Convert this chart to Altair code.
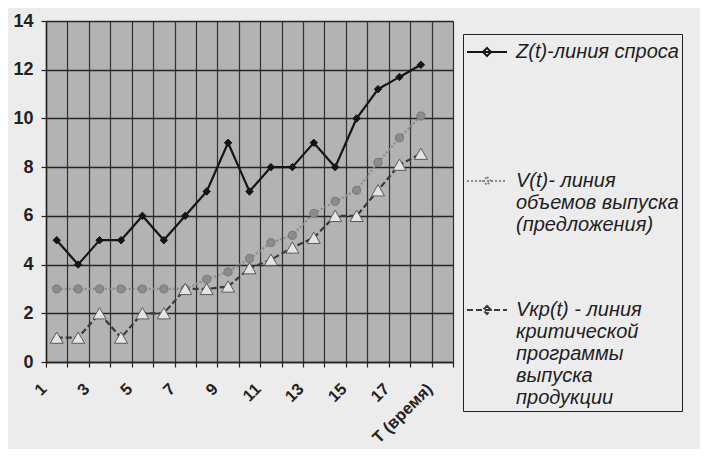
import json
import altair as alt
import pandas as pd

# ---- data ----
t_domain = [str(i) for i in range(1, 19)] + ["Т (время)"]
t_values = [str(i) for i in range(1, 19)]
shown_labels = ["1", "3", "5", "7", "9", "11", "13", "15", "17", "Т (время)"]
series_keys = ["Z", "V", "Vkr"]
z_vals = [5, 4, 5, 5, 6, 5, 6, 7, 9, 7, 8, 8, 9, 8, 10, 11.2, 11.7, 12.2]
v_vals = [3, 3, 3, 3, 3, 3, 3, 3.4, 3.7, 4.25, 4.9, 5.2, 6.1, 6.6, 7.05, 8.2, 9.2, 10.1]
vkr_vals = [1, 1, 2, 1, 2, 2, 3, 3, 3.1, 3.85, 4.2, 4.7, 5.1, 6, 6, 7.05, 8.1, 8.55]
legend_z = ["Z(t)-линия спроса", "", ""]
legend_v = ["V(t)- линия", "объемов выпуска", "(предложения)"]
legend_vkr = ["Vкр(t) - линия", "критической", "программы", "выпуска", "продукции"]
y_ticks = [0, 2, 4, 6, 8, 10, 12, 14]

df = pd.DataFrame({
    "t": t_values * 3,
    "s": [k for k in series_keys for _ in t_values],
    "v": z_vals + v_vals + vkr_vals,
})

FONT = "Liberation Sans"
BG = "#ececec"

label_expr = (
    "datum.value == 'Z' ? " + json.dumps(legend_z, ensure_ascii=False)
    + " : datum.value == 'V' ? " + json.dumps(legend_v, ensure_ascii=False)
    + " : " + json.dumps(legend_vkr, ensure_ascii=False)
)
x_label_expr = "indexof(" + json.dumps(shown_labels, ensure_ascii=False) + ", datum.label) >= 0 ? datum.label : ''"

x_enc = alt.X(
    "t:N",
    scale=alt.Scale(domain=t_domain, type="band", paddingInner=0, paddingOuter=0),
    axis=alt.Axis(
        title=None, labelExpr=x_label_expr, labelAngle=-45, labelAlign="right",
        labelBaseline="middle", labelOffset=-13, labelPadding=19, labelOverlap=False,
        tickBand="extent", grid=True, gridColor="#303030", gridWidth=1.2,
        tickColor="#222", tickSize=5, tickWidth=1.2, domainColor="#222", domainWidth=1.5,
        labelFont=FONT, labelFontWeight="bold", labelFontSize=16.5, labelColor="#222",
    ),
)
y_enc = alt.Y(
    "v:Q",
    scale=alt.Scale(domain=[0, 14], nice=False),
    axis=alt.Axis(
        title=None, values=y_ticks, grid=True, gridColor="#262626", gridWidth=1.6,
        tickColor="#222", tickSize=5, tickWidth=1.2, domainColor="#222", domainWidth=1.5,
        labelFont=FONT, labelFontWeight="bold", labelFontSize=18, labelColor="#222",
        labelPadding=8,
    ),
)

sym_path = "M-1,-0.3H1M0,-0.5L0.2,-0.3L0,-0.1L-0.2,-0.3Z"
legend = alt.Legend(
    title=None, orient="none", legendX=417, legendY=13, direction="vertical",
    labelExpr=label_expr, labelFont=FONT, labelFontSize=20, labelFontStyle="italic",
    labelColor="#1e1e1e", labelBaseline="alphabetic", labelLimit=400, labelOffset=8,
    symbolType=sym_path, symbolSize=1600, symbolStrokeWidth=2,
    rowPadding=60, padding=3, strokeColor="#222", fillColor=BG,
)

lines = alt.Chart(df).mark_line(strokeWidth=2.2).encode(
    x=x_enc, y=y_enc,
    color=alt.Color("s:N", scale=alt.Scale(domain=series_keys, range=["#151515", "#8a8a8a", "#3a3a3a"]), legend=legend),
    strokeDash=alt.StrokeDash("s:N", scale=alt.Scale(domain=series_keys, range=[[1, 0], [2, 2], [6, 3]]), legend=legend),
)

pts_z = alt.Chart(df).transform_filter(alt.datum.s == "Z").mark_point(
    filled=True, opacity=1, shape="diamond", size=55, fill="#141414", stroke="#141414", strokeWidth=1
).encode(x=x_enc, y=y_enc)
pts_v = alt.Chart(df).transform_filter(alt.datum.s == "V").mark_point(
    filled=True, opacity=1, shape="circle", size=65, fill="#8c8c8c", stroke="#777777", strokeWidth=1
).encode(x=x_enc, y=y_enc)
pts_k = alt.Chart(df).transform_filter(alt.datum.s == "Vkr").mark_point(
    filled=True, opacity=1, shape="triangle-up", size=170, fill="#e4e4e4", stroke="#5a5a5a", strokeWidth=1
).encode(x=x_enc, y=y_enc)

chart = (
    alt.layer(lines, pts_z, pts_v, pts_k)
    .properties(
        width=407, height=341,
        padding={"left": 38, "top": 13, "right": 247, "bottom": 87},
        autosize=alt.AutoSizeParams(type="none"),
        background=BG,
    )
    .configure(
        view=alt.ViewConfig(fill="#b3b3b3", stroke="transparent"),
        style={"guide-label": {"lineHeight": 22}},
    )
)

chart.save("out.html", embed_options={"renderer": "svg", "actions": False})
